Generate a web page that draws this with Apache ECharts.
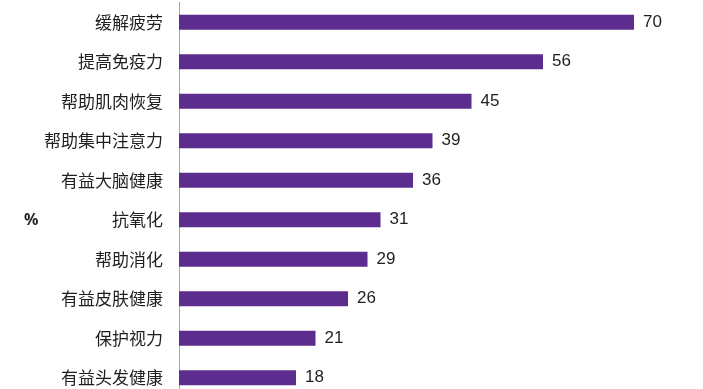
<!DOCTYPE html>
<html><head><meta charset="utf-8">
<script src="https://cdn.jsdelivr.net/npm/echarts@6/dist/echarts.min.js"></script>
<style>html,body{margin:0;padding:0;background:#fff;overflow:hidden}#c{width:703px;height:402px}</style>
</head><body><div id="c"></div>
<script>
const categories = ['缓解疲劳','提高免疫力','帮助肌肉恢复','帮助集中注意力','有益大脑健康','抗氧化','帮助消化','有益皮肤健康','保护视力','有益头发健康'];
const values = [70,56,45,39,36,31,29,26,21,18];
const unitLabel = '%';

const chart = echarts.init(document.getElementById('c'), null, {renderer:'canvas'});
chart.setOption({
  animation:false,
  backgroundColor:'#fff',
  grid:{left:179, top:2.5, width:520, height:395, containLabel:false},
  xAxis:{type:'value', min:0, max:80, show:false},
  yAxis:{type:'category', data:categories, inverse:true,
    axisLine:{lineStyle:{color:'#a6a6a6', width:1}},
    axisTick:{length:5, lineStyle:{color:'#a6a6a6'}},
    axisLabel:{margin:16, color:'#1f1f1f', fontSize:17, fontFamily:'"Noto Sans CJK SC", sans-serif'}
  },
  graphic:[{type:'text', left:24, top:212, style:{text:unitLabel, fontSize:16, fontWeight:'bold', fill:'#1f1f1f', fontFamily:'"Noto Sans", sans-serif'}}],
  series:[{type:'bar', data:values, barWidth:15,
    itemStyle:{color:'#5c2d8f'},
    label:{show:true, position:'right', distance:9, color:'#1f1f1f', fontSize:17, fontFamily:'"Liberation Sans", sans-serif'}
  }]
});
</script></body></html>
